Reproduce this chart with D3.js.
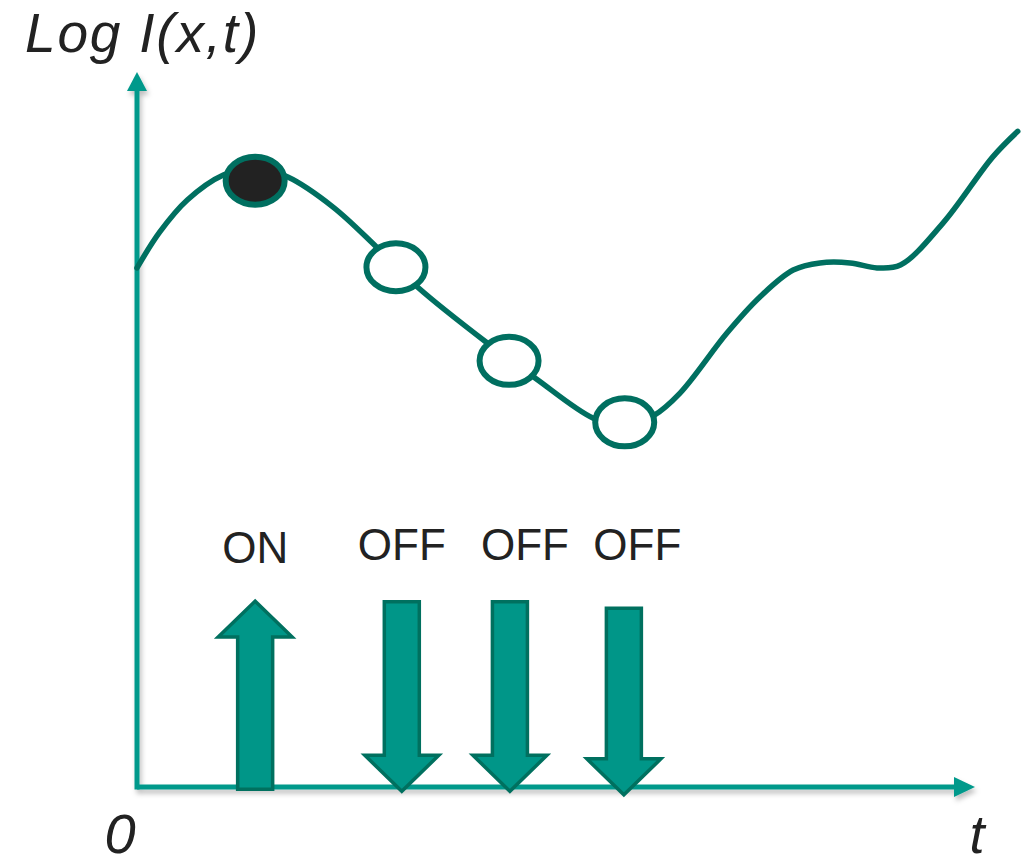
<!DOCTYPE html>
<html>
<head>
<meta charset="utf-8">
<script src="https://cdn.jsdelivr.net/npm/d3@7"></script>
<style>
  html, body { margin: 0; padding: 0; background: #ffffff; }
  svg { display: block; }
</style>
</head>
<body>
<script>
// ---- data ----
const curveT = [0, 2.7, 6.0, 10.3, 14.1, 18.0, 23.4, 28.6, 33.5, 41.8, 47.5, 54.4, 58.2, 61.6, 64.8, 70.4, 74.3, 78.3, 81.5, 85.1, 88.3, 91.1, 96.2, 102.1, 105.1];
const curveV = [72.6, 77.6, 82.1, 85.6, 86.6, 85.3, 81.1, 75.5, 69.9, 62.1, 57.2, 51.6, 50.4, 51.9, 55.1, 63.5, 68.5, 72.3, 73.3, 73.3, 72.6, 73.0, 78.9, 88.1, 91.7];

const markerT = [14.1, 30.9, 44.4, 58.2];
const markerV = [84.8, 72.7, 59.6, 51.0];
const markerOn = [true, false, false, false];

const arrowT = [14.1, 31.6, 44.5, 58.1];
const arrowDir = ["up", "down", "down", "down"];
const arrowTopV = [26.0, 25.9, 25.9, 25.0];
const arrowBottomV = [-0.3, -0.6, -0.6, -1.1];

const labelText = ["ON", "OFF", "OFF", "OFF"];
const labelT = [14.1, 31.6, 46.3, 59.7];
const labelV = [31.3, 31.7, 31.7, 31.7];

const titleText = "Log I(x,t)";
const originLabel = "0";
const timeLabel = "t";

// ---- layout ----
const W = 1025, H = 864;
const x = d3.scaleLinear().domain([0, 100]).range([137, 975]);
const y = d3.scaleLinear().domain([0, 100]).range([787, 72]);

const axisColor = "#00998b";
const curveColor = "#006f60";
const arrowFill = "#009688";
const arrowStroke = "#00705f";

const svg = d3.select("body").append("svg").attr("width", W).attr("height", H);

const defs = svg.append("defs");
const f = defs.append("filter").attr("id", "shadow").attr("x", "-10%").attr("y", "-50%").attr("width", "120%").attr("height", "300%");
f.append("feDropShadow").attr("dx", 2).attr("dy", 4).attr("stdDeviation", 2.5).attr("flood-color", "#000").attr("flood-opacity", 0.25);

// axes
const axes = svg.append("g").attr("filter", "url(#shadow)");
const x0 = x(0), y0 = y(0), xEnd = x(100), yEnd = y(100);
axes.append("line").attr("x1", x0).attr("y1", y0).attr("x2", xEnd - 18).attr("y2", y0)
  .attr("stroke", axisColor).attr("stroke-width", 5);
axes.append("path").attr("d", `M${xEnd},${y0} L${xEnd - 21},${y0 - 10} L${xEnd - 21},${y0 + 10} Z`).attr("fill", axisColor);
axes.append("line").attr("x1", x0).attr("y1", y0 + 2.5).attr("x2", x0).attr("y2", yEnd + 16)
  .attr("stroke", axisColor).attr("stroke-width", 5);
axes.append("path").attr("d", `M${x0},${yEnd} L${x0 - 10},${yEnd + 19} L${x0 + 10},${yEnd + 19} Z`).attr("fill", axisColor);

// curve
const pts = curveT.map((t, i) => [t, curveV[i]]);
const line = d3.line().x(d => x(d[0])).y(d => y(d[1])).curve(d3.curveCatmullRom.alpha(0.5));
svg.append("path").attr("d", line(pts)).attr("fill", "none")
  .attr("stroke", curveColor).attr("stroke-width", 5.5).attr("stroke-linecap", "round");

// markers
svg.selectAll("ellipse.marker").data(markerT.map((t, i) => ({ t, v: markerV[i], on: markerOn[i] })))
  .enter().append("ellipse").attr("class", "marker")
  .attr("cx", d => x(d.t)).attr("cy", d => y(d.v))
  .attr("rx", 29.5).attr("ry", 24)
  .attr("fill", d => d.on ? "#222222" : "#ffffff")
  .attr("stroke", curveColor).attr("stroke-width", 6);

// arrows
const shaftHalf = 17.5, headHalf = 37, headLen = 36;
function arrowPath(d) {
  const cx = x(d.t), top = y(d.top), bot = y(d.bottom);
  if (d.dir === "up") {
    return `M${cx - shaftHalf},${bot} L${cx - shaftHalf},${top + headLen} L${cx - headHalf},${top + headLen} L${cx},${top} L${cx + headHalf},${top + headLen} L${cx + shaftHalf},${top + headLen} L${cx + shaftHalf},${bot} Z`;
  }
  return `M${cx - shaftHalf},${top} L${cx - shaftHalf},${bot - headLen} L${cx - headHalf},${bot - headLen} L${cx},${bot} L${cx + headHalf},${bot - headLen} L${cx + shaftHalf},${bot - headLen} L${cx + shaftHalf},${top} Z`;
}
svg.selectAll("path.arrow").data(arrowT.map((t, i) => ({ t, dir: arrowDir[i], top: arrowTopV[i], bottom: arrowBottomV[i] })))
  .enter().append("path").attr("class", "arrow")
  .attr("d", arrowPath)
  .attr("fill", arrowFill).attr("stroke", arrowStroke).attr("stroke-width", 3.5).attr("stroke-linejoin", "miter");

// labels
const font = "'Liberation Sans', Arial, Helvetica, sans-serif";
svg.selectAll("text.state").data(labelText.map((s, i) => ({ s, t: labelT[i], v: labelV[i] })))
  .enter().append("text").attr("class", "state")
  .attr("x", d => x(d.t)).attr("y", d => y(d.v))
  .attr("text-anchor", "middle").attr("font-family", font).attr("font-size", 44)
  .attr("fill", "#222222").text(d => d.s);

svg.append("text").attr("x", 25).attr("y", 52)
  .attr("font-family", font).attr("font-style", "italic").attr("font-size", 55)
  .attr("letter-spacing", 1.8)
  .attr("fill", "#222222").text(titleText);

svg.append("text").attr("x", 120).attr("y", 853).attr("text-anchor", "middle")
  .attr("font-family", font).attr("font-style", "italic").attr("font-size", 56)
  .attr("fill", "#222222").text(originLabel);

svg.append("text").attr("x", 977).attr("y", 853).attr("text-anchor", "middle")
  .attr("font-family", font).attr("font-style", "italic").attr("font-size", 54)
  .attr("fill", "#222222").text(timeLabel);
</script>
</body>
</html>
